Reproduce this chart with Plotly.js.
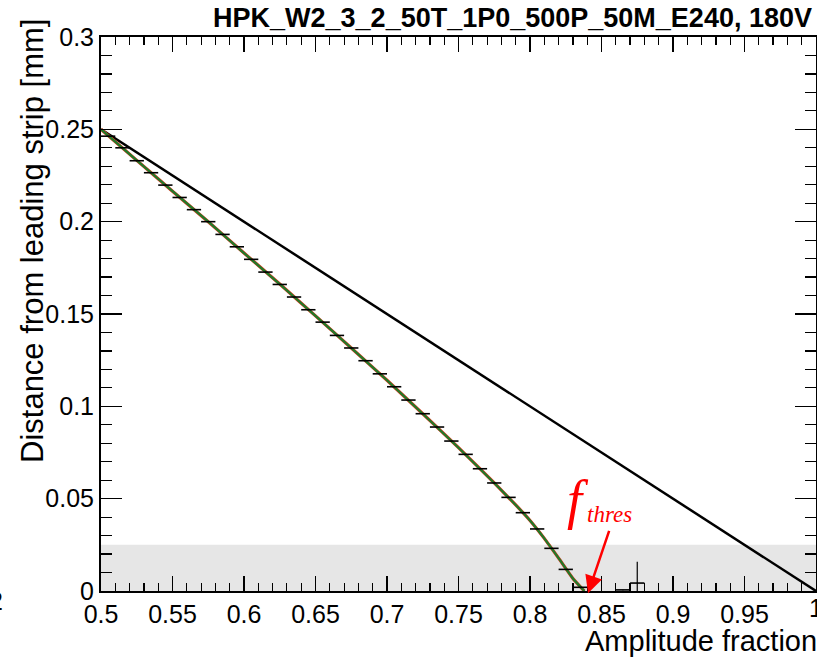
<!DOCTYPE html>
<html>
<head>
<meta charset="utf-8">
<script src="https://cdn.plot.ly/plotly-3.0.1.min.js"></script>
<style>html,body{margin:0;padding:0;background:#fff;overflow:hidden;}#chart{width:817px;height:657px;}</style>
</head>
<body>
<div id="chart"></div>
<script>
// Profile bins (amplitude fraction bin centers, bin half-width 0.005)
const binCenters = [0.505,0.515,0.525,0.535,0.545,0.555,0.565,0.575,0.585,0.595,
  0.605,0.615,0.625,0.635,0.645,0.655,0.665,0.675,0.685,0.695,
  0.705,0.715,0.725,0.735,0.745,0.755,0.765,0.775,0.785,0.795,
  0.805,0.815,0.825,0.835,0.865,0.875];
const profileMean = [0.2463,0.2400,0.2330,0.2265,0.2198,0.2131,0.2065,0.2000,0.1931,0.1864,
  0.1796,0.1727,0.1660,0.1592,0.1523,0.1456,0.1384,0.1316,0.1247,0.1176,
  0.1106,0.1034,0.0960,0.0888,0.0812,0.0740,0.0662,0.0585,0.0507,0.0424,
  0.0336,0.0231,0.0117,0.0020,0.0006,0.0043];
const profileErr = [0,0,0,0,0,0,0,0,0,0,0,0,0,0,0,0,0,0,0,0,
  0,0,0,0,0,0,0,0,0,0,0,0,0,0,0,0.0115];
// Fit curve
const fitX = [0.500,0.525,0.550,0.575,0.600,0.625,0.650,0.675,0.700,0.725,0.750,0.775,0.790,0.800,0.810,0.820,0.830,0.838];
const fitY = [0.2500,0.2332,0.2165,0.2000,0.1830,0.1662,0.1490,0.1316,0.1141,0.0960,0.0776,0.0585,0.0466,0.0382,0.0285,0.0178,0.0068,0.0000];
// Linear reference line
const lineX = [0.5, 1.0];
const lineY = [0.25, 0.0];
const titleText = "HPK_W2_3_2_50T_1P0_500P_50M_E240, 180V";
const xTitle = "Amplitude fraction";
const yTitle = "Distance from leading strip [mm]";
const band = [0, 0.025];
const arrowTail = [0.8557, 0.0334];
const arrowTip = [0.8406, -0.0012];

const FONT = "Liberation Sans, Arial, Helvetica, sans-serif";
const SERIF = "Liberation Serif, Times New Roman, serif";

const traces = [
  {x: lineX, y: lineY, mode: 'lines', line: {color: '#000', width: 2.5}, hoverinfo: 'skip'},
  {x: fitX, y: fitY, mode: 'lines', line: {color: '#d23c1e', width: 3.2, shape: 'spline', smoothing: 0.4}, hoverinfo: 'skip'},
  {x: fitX, y: fitY, mode: 'lines', line: {color: '#1f7a2a', width: 2.2, shape: 'spline', smoothing: 0.4}, hoverinfo: 'skip'},
  {x: binCenters, y: profileMean, mode: 'markers', marker: {size: 1, color: '#000'},
   error_x: {type: 'constant', value: 0.005, width: 0, thickness: 1.6, color: '#000'},
   error_y: {type: 'data', array: profileErr, visible: true, width: 0, thickness: 1.2, color: '#000'},
   hoverinfo: 'skip'}
];

const layout = {
  width: 817, height: 657,
  margin: {l: 101, r: 1, t: 37, b: 66},
  paper_bgcolor: '#fff', plot_bgcolor: '#fff',
  showlegend: false,
  font: {family: FONT, color: '#000', size: 25},
  title: {text: titleText, font: {family: FONT, size: 27, weight: 'bold', color: '#000'},
          x: 0.9944, xref: 'paper', xanchor: 'right', y: 1 - 18/657, yref: 'container', yanchor: 'middle'},
  xaxis: {range: [0.5, 1.0], dtick: 0.05, tick0: 0.5, ticks: 'inside', ticklen: 15, tickwidth: 1.5, tickcolor: '#000',
          showline: true, linewidth: 2, linecolor: '#000', mirror: 'allticks', showgrid: false, zeroline: false,
          tickfont: {family: FONT, size: 25, color: '#000'},
          minor: {dtick: 0.01, ticks: 'inside', ticklen: 8, tickwidth: 1.2, tickcolor: '#000', showgrid: false}},
  yaxis: {range: [0, 0.3], dtick: 0.05, tick0: 0, ticks: 'inside', ticklen: 21, tickwidth: 1.5, tickcolor: '#000',
          showline: true, linewidth: 2, linecolor: '#000', mirror: 'allticks', showgrid: false, zeroline: false,
          tickfont: {family: FONT, size: 25, color: '#000'},
          minor: {dtick: 0.01, ticks: 'inside', ticklen: 11, tickwidth: 1.2, tickcolor: '#000', showgrid: false}},
  shapes: [
    {type: 'rect', xref: 'paper', x0: 0, x1: 1, yref: 'y', y0: band[0], y1: band[1],
     fillcolor: '#e6e6e6', line: {width: 0}, layer: 'below'}
  ],
  annotations: [
    {text: yTitle, textangle: -90, xref: 'paper', yref: 'paper', x: (32-101)/715, y: (591-241)/554,
     xanchor: 'center', yanchor: 'middle', showarrow: false, font: {family: FONT, size: 31, color: '#000'}},
    {text: xTitle, xref: 'paper', yref: 'paper', x: (819-101)/715, y: (591-641)/554,
     xanchor: 'right', yanchor: 'middle', showarrow: false, font: {family: FONT, size: 29, color: '#000'}},
    {text: '2', xref: 'paper', yref: 'paper', x: (-4-101)/715, y: (591-601)/554,
     xanchor: 'center', yanchor: 'middle', showarrow: false, font: {family: FONT, size: 25, color: '#000'}},
    {text: '1', xref: 'x', yref: 'paper', x: 1.0, y: (591-608)/554,
     xanchor: 'center', yanchor: 'middle', showarrow: false, font: {family: FONT, size: 25, color: '#000'}},
    {text: '<i>f</i>', xref: 'x', yref: 'y', x: 0.5 + (578-102)/1428, y: (591-500)/1847,
     xanchor: 'center', yanchor: 'middle', showarrow: false, font: {family: SERIF, size: 54, color: '#ff0000'}},
    {text: '<i>thres</i>', xref: 'x', yref: 'y', x: 0.5 + (610-102)/1428, y: (591-514)/1847,
     xanchor: 'center', yanchor: 'middle', showarrow: false, font: {family: SERIF, size: 23, color: '#ff0000'}},
    {text: '', xref: 'x', yref: 'y', axref: 'x', ayref: 'y', x: arrowTip[0], y: arrowTip[1],
     ax: arrowTail[0], ay: arrowTail[1], showarrow: true, arrowhead: 2, arrowsize: 1.4, arrowwidth: 2.5,
     arrowcolor: '#ff0000', standoff: 0}
  ]
};

Plotly.newPlot('chart', traces, layout, {staticPlot: true, displayModeBar: false});
</script>
</body>
</html>
